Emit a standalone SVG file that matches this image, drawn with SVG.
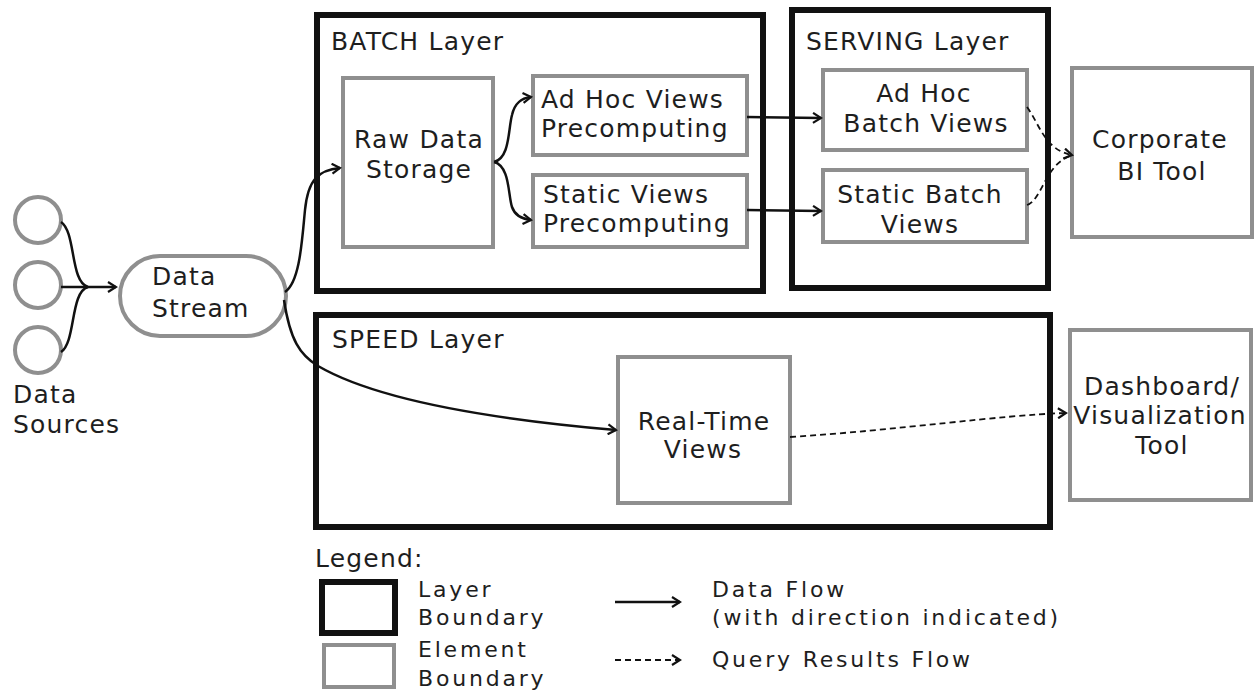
<svg xmlns="http://www.w3.org/2000/svg" width="1256" height="698" viewBox="0 0 1256 698">
<defs>
<style>
.layer{fill:none;stroke:#111;stroke-width:6}
.elem{fill:#fff;stroke:#8f8f8f;stroke-width:4}
.t{font-family:"DejaVu Sans","Liberation Sans",sans-serif;font-size:25px;fill:#1e1e1e;letter-spacing:1.2px}
.m{text-anchor:middle}
.lg{font-size:22px;letter-spacing:2.8px}
.flow{fill:none;stroke:#111;stroke-width:2.5}
.query{fill:none;stroke:#111;stroke-width:1.8;stroke-dasharray:6 4}
</style>
<marker id="ah" viewBox="0 0 12 12" refX="10" refY="6" markerWidth="12" markerHeight="12" markerUnits="userSpaceOnUse" orient="auto">
<path d="M2,1 L10,6 L2,11" fill="none" stroke="#111" stroke-width="2.2"/>
</marker>
</defs>
<rect width="1256" height="698" fill="#fff"/>

<g id="batch-layer">
<rect class="layer" x="317" y="15" width="446" height="276"/>
<text class="t" x="331" y="50">BATCH Layer</text>
</g>
<g id="serving-layer">
<rect class="layer" x="792" y="10" width="256" height="278"/>
<text class="t" x="806" y="50">SERVING Layer</text>
</g>
<g id="speed-layer">
<rect class="layer" x="316" y="315" width="734" height="212"/>
<text class="t" x="332" y="348">SPEED Layer</text>
</g>

<g id="data-sources">
<circle class="elem" cx="38" cy="220" r="23"/>
<circle class="elem" cx="38" cy="285" r="23"/>
<circle class="elem" cx="38" cy="350" r="23"/>
<text class="t" x="13" y="403">Data</text>
<text class="t" x="13" y="433">Sources</text>
</g>
<g id="data-stream">
<rect class="elem" x="120" y="256" width="166" height="80" rx="40"/>
<text class="t" x="152" y="285">Data</text>
<text class="t" x="152" y="317">Stream</text>
</g>
<g id="raw-data-storage">
<rect class="elem" x="343" y="78" width="150" height="169"/>
<text class="t m" x="419" y="148">Raw Data</text>
<text class="t m" x="419" y="178">Storage</text>
</g>
<g id="adhoc-precomputing">
<rect class="elem" x="533" y="76" width="214" height="79"/>
<text class="t" x="541" y="108">Ad Hoc Views</text>
<text class="t" x="541" y="137">Precomputing</text>
</g>
<g id="static-precomputing">
<rect class="elem" x="533" y="175" width="214" height="72"/>
<text class="t" x="543" y="203">Static Views</text>
<text class="t" x="543" y="232">Precomputing</text>
</g>
<g id="adhoc-batch-views">
<rect class="elem" x="823" y="70" width="204" height="80"/>
<text class="t m" x="924" y="102">Ad Hoc</text>
<text class="t m" x="926" y="132">Batch Views</text>
</g>
<g id="static-batch-views">
<rect class="elem" x="823" y="170" width="204" height="72"/>
<text class="t m" x="920" y="203">Static Batch</text>
<text class="t m" x="920" y="233">Views</text>
</g>
<g id="corporate-bi">
<rect class="elem" x="1072" y="68" width="180" height="169"/>
<text class="t m" x="1160" y="148">Corporate</text>
<text class="t m" x="1162" y="180">BI Tool</text>
</g>
<g id="real-time-views">
<rect class="elem" x="618" y="357" width="172" height="146"/>
<text class="t m" x="704" y="430">Real-Time</text>
<text class="t m" x="703" y="458">Views</text>
</g>
<g id="dashboard">
<rect class="elem" x="1070" y="330" width="181" height="170"/>
<text class="t m" x="1162" y="395">Dashboard/</text>
<text class="t m" x="1160" y="424">Visualization</text>
<text class="t m" x="1162" y="454">Tool</text>
</g>

<g id="connectors">
<path class="flow" d="M61,222 C76,232 70,282 88,287"/>
<path class="flow" d="M61,352 C76,342 70,292 88,287"/>
<path class="flow" d="M61,287 L116,287" marker-end="url(#ah)"/>
<path class="flow" d="M285,292 C300,282 302,240 305,210 C308,180 318,170 340,168" marker-end="url(#ah)"/>
<path class="flow" d="M284,300 C290,340 300,355 318,366 C380,402 500,420 616,430" marker-end="url(#ah)"/>
<path class="flow" d="M494,162 C510,158 508,130 512,115 C515,102 522,98 531,97" marker-end="url(#ah)"/>
<path class="flow" d="M494,162 C510,166 508,195 512,207 C515,216 522,219 531,220" marker-end="url(#ah)"/>
<path class="flow" d="M747,117 L821,118" marker-end="url(#ah)"/>
<path class="flow" d="M747,210 L821,211" marker-end="url(#ah)"/>
<path class="query" d="M1027,107 C1040,125 1045,150 1072,155" marker-end="url(#ah)"/>
<path class="query" d="M1027,205 C1042,200 1045,165 1070,156"/>
<path class="query" d="M790,437 C900,430 1000,415 1066,413" marker-end="url(#ah)"/>
</g>

<g id="legend">
<text class="t" x="315" y="567">Legend:</text>
<rect class="layer" x="322" y="582" width="73" height="51"/>
<rect class="elem" x="324" y="645" width="70" height="42"/>
<text class="t lg" x="418" y="597">Layer</text>
<text class="t lg" x="418" y="625">Boundary</text>
<text class="t lg" x="418" y="657">Element</text>
<text class="t lg" x="418" y="686">Boundary</text>
<path class="flow" d="M615,602 L680,602" marker-end="url(#ah)"/>
<path class="query" d="M615,660 L680,660" marker-end="url(#ah)"/>
<text class="t lg" x="712" y="597">Data Flow</text>
<text class="t lg" x="712" y="625">(with direction indicated)</text>
<text class="t lg" x="712" y="667">Query Results Flow</text>
</g>
</svg>
